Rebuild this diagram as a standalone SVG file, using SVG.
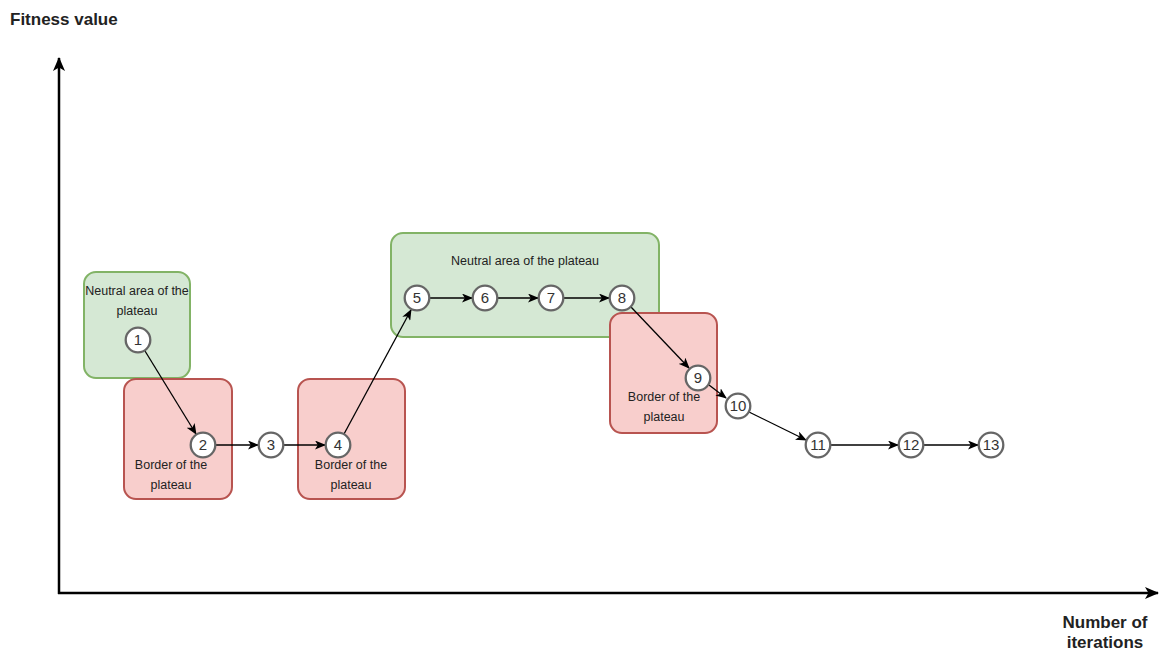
<svg xmlns="http://www.w3.org/2000/svg" width="1164" height="653" viewBox="0 0 1164 653">
<style>
.g{fill:#d5e8d4;stroke:#82b366;stroke-width:2}
.r{fill:#f8cecc;stroke:#b85450;stroke-width:2}
.c{fill:#fff;stroke:#666;stroke-width:2.3}
.t{font-family:"Liberation Sans",Arial,sans-serif;font-size:12.5px;fill:#222;text-anchor:middle}
.n{font-family:"Liberation Sans",Arial,sans-serif;font-size:15px;fill:#333;text-anchor:middle}
.ax{font-family:"Liberation Sans",Arial,sans-serif;font-size:17px;font-weight:bold;fill:#222}
.e{stroke:#000;stroke-width:1.3;fill:none;marker-end:url(#a)}
.axis{stroke:#000;stroke-width:2.5;fill:none;marker-end:url(#b)}
</style>
<defs>
<marker id="a" markerWidth="11" markerHeight="9" refX="10" refY="4.5" orient="auto" markerUnits="userSpaceOnUse"><path d="M0,0 L11,4.5 L0,9 L2.8,4.5 Z" fill="#000"/></marker>
<marker id="b" markerWidth="14" markerHeight="12" refX="13" refY="6" orient="auto" markerUnits="userSpaceOnUse"><path d="M0,0 L14,6 L0,12 L3.5,6 Z" fill="#000"/></marker>
</defs>
<rect width="1164" height="653" fill="#fff"/>
<g id="axes">
<line class="axis" x1="59" y1="594" x2="59" y2="58"/>
<line class="axis" x1="58" y1="593" x2="1158" y2="593"/>
<text class="ax" x="10" y="25">Fitness value</text>
<text class="ax" x="1105" y="628" text-anchor="middle">Number of</text>
<text class="ax" x="1105" y="648" text-anchor="middle">iterations</text>
</g>
<g id="neutral1"><rect class="g" x="84" y="272" width="106" height="106" rx="12"/><text class="t" x="137" y="295">Neutral area of the</text><text class="t" x="137" y="315">plateau</text></g>
<g id="border1"><rect class="r" x="124" y="379" width="108" height="120" rx="12"/><text class="t" x="171" y="469">Border of the</text><text class="t" x="171" y="489">plateau</text></g>
<g id="border2"><rect class="r" x="298" y="379" width="107" height="120" rx="12"/><text class="t" x="351" y="469">Border of the</text><text class="t" x="351" y="489">plateau</text></g>
<g id="neutral2"><rect class="g" x="391" y="233" width="268" height="104" rx="12"/><text class="t" x="525" y="265">Neutral area of the plateau</text></g>
<g id="border3"><rect class="r" x="610" y="313" width="107" height="120" rx="12"/><text class="t" x="664" y="401">Border of the</text><text class="t" x="664" y="421">plateau</text></g>
<g id="connectors">
<line class="e" x1="145" y1="351" x2="196" y2="434"/>
<line class="e" x1="216" y1="445" x2="258" y2="445"/>
<line class="e" x1="284" y1="445" x2="325" y2="445"/>
<line class="e" x1="344" y1="434" x2="411" y2="310"/>
<line class="e" x1="430" y1="298" x2="472" y2="298"/>
<line class="e" x1="498" y1="298" x2="538" y2="298"/>
<line class="e" x1="564" y1="298" x2="609" y2="298"/>
<line class="e" x1="631" y1="307" x2="689" y2="368"/>
<line class="e" x1="709" y1="385" x2="726" y2="398"/>
<line class="e" x1="749" y1="412" x2="806" y2="440"/>
<line class="e" x1="831" y1="445" x2="898" y2="445"/>
<line class="e" x1="924" y1="445" x2="978" y2="445"/>
</g>
<g id="n1"><circle class="c" cx="138" cy="340" r="12.3"/><text class="n" x="138" y="345">1</text></g>
<g id="n2"><circle class="c" cx="203" cy="445" r="12.3"/><text class="n" x="203" y="450">2</text></g>
<g id="n3"><circle class="c" cx="271" cy="445" r="12.3"/><text class="n" x="271" y="450">3</text></g>
<g id="n4"><circle class="c" cx="338" cy="445" r="12.3"/><text class="n" x="338" y="450">4</text></g>
<g id="n5"><circle class="c" cx="417" cy="298" r="12.3"/><text class="n" x="417" y="303">5</text></g>
<g id="n6"><circle class="c" cx="485" cy="298" r="12.3"/><text class="n" x="485" y="303">6</text></g>
<g id="n7"><circle class="c" cx="551" cy="298" r="12.3"/><text class="n" x="551" y="303">7</text></g>
<g id="n8"><circle class="c" cx="622" cy="298" r="12.3"/><text class="n" x="622" y="303">8</text></g>
<g id="n9"><circle class="c" cx="698" cy="378" r="12.3"/><text class="n" x="698" y="383">9</text></g>
<g id="n10"><circle class="c" cx="738" cy="406" r="12.3"/><text class="n" x="738" y="411">10</text></g>
<g id="n11"><circle class="c" cx="818" cy="445" r="12.3"/><text class="n" x="818" y="450">11</text></g>
<g id="n12"><circle class="c" cx="911" cy="445" r="12.3"/><text class="n" x="911" y="450">12</text></g>
<g id="n13"><circle class="c" cx="991" cy="445" r="12.3"/><text class="n" x="991" y="450">13</text></g>
</svg>
